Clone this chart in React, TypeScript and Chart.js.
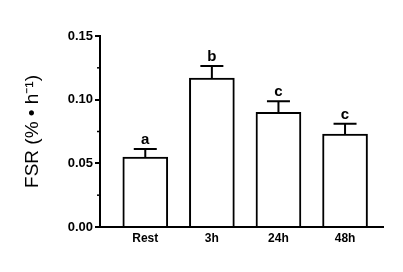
import React, { useEffect, useRef } from "react";
import { Chart, registerables } from "chart.js";

Chart.register(...registerables);

const categories = ["Rest", "3h", "24h", "48h"];
const fsrValues = [0.055, 0.117, 0.090, 0.073];
const fsrErrors = [0.0063, 0.0095, 0.0088, 0.008];
const sigLetters = ["a", "b", "c", "c"];
const yMajorTicks = [0, 0.05, 0.1, 0.15];
const yMinorTicks = [0.025, 0.075, 0.125];

const FONT = "'Liberation Sans', Arial, Helvetica, sans-serif";

const errorBarPlugin = {
  id: "errorBars",
  afterDatasetsDraw(chart: any) {
    const { ctx } = chart;
    const meta = chart.getDatasetMeta(0);
    const yScale = chart.scales.y;
    ctx.save();
    ctx.strokeStyle = "#000";
    ctx.fillStyle = "#000";
    ctx.lineWidth = 2;
    meta.data.forEach((bar: any, i: number) => {
      const top = yScale.getPixelForValue(fsrValues[i]);
      const errTop = yScale.getPixelForValue(fsrValues[i] + fsrErrors[i]);
      ctx.beginPath();
      ctx.moveTo(bar.x, top);
      ctx.lineTo(bar.x, errTop);
      ctx.moveTo(bar.x - 11.5, errTop);
      ctx.lineTo(bar.x + 11.5, errTop);
      ctx.stroke();
      ctx.font = `bold 15px ${FONT}`;
      ctx.textAlign = "center";
      ctx.textBaseline = "alphabetic";
      ctx.fillText(sigLetters[i], bar.x, errTop - 5);
    });
    // minor ticks on y axis
    const left = chart.chartArea.left;
    ctx.lineWidth = 1.5;
    yMinorTicks.forEach((v) => {
      const y = yScale.getPixelForValue(v);
      ctx.beginPath();
      ctx.moveTo(left - 3, y);
      ctx.lineTo(left, y);
      ctx.stroke();
    });
    ctx.restore();
  },
};

export default function App() {
  const canvasRef = useRef<HTMLCanvasElement | null>(null);

  useEffect(() => {
    if (!canvasRef.current) return;
    const chart = new Chart(canvasRef.current, {
      type: "bar",
      data: {
        datasets: [
          {
            data: fsrValues.map((v, i) => ({ x: i, y: v })),
            backgroundColor: "#ffffff",
            borderColor: "#000000",
            borderWidth: 2,
            barThickness: 45,
          },
        ],
      },
      options: {
        responsive: false,
        animation: false,
        events: [],
        layout: { padding: { left: 0, top: 36, right: 20, bottom: 0 } },
        plugins: {
          legend: { display: false },
          tooltip: { enabled: false },
        },
        scales: {
          x: {
            type: "linear",
            offset: false,
            min: -0.68,
            max: 3.57,
            afterBuildTicks: (scale: any) => {
              scale.ticks = categories.map((_, i) => ({ value: i }));
            },
            afterFit: (scale: any) => {
              scale.height = 45;
            },
            grid: { display: false, drawTicks: false, offset: false },
            border: { display: true, color: "#000", width: 2 },
            ticks: {
              padding: 4,
              color: "#000",
              font: { family: FONT, size: 12, weight: "bold" },
              callback: (v: any) => categories[Math.round(Number(v))] ?? "",
            },
          },
          y: {
            min: 0,
            max: 0.15,
            afterBuildTicks: (scale: any) => {
              scale.ticks = yMajorTicks.map((v) => ({ value: v }));
            },
            afterFit: (scale: any) => {
              scale.width = 100;
            },
            grid: {
              display: true,
              drawOnChartArea: false,
              drawTicks: true,
              tickLength: 5,
              color: "#000",
              lineWidth: 2,
            },
            border: { display: true, color: "#000", width: 2 },
            ticks: {
              padding: 2,
              color: "#000",
              font: { family: FONT, size: 13, weight: "bold" },
              callback: (v: any) => Number(v).toFixed(2),
            },
            title: {
              display: true,
              text: "FSR (% • h⁻¹)",
              color: "#000",
              font: { family: FONT, size: 19, weight: "normal" },
              padding: { top: 21, bottom: 0 },
            },
          },
        },
      },
      plugins: [errorBarPlugin],
    });
    return () => chart.destroy();
  }, []);

  return (
    <div style={{ position: "absolute", left: 0, top: 0, width: 403, height: 272, background: "#fff" }}>
      <canvas ref={canvasRef} width={403} height={272} style={{ display: "block" }} />
    </div>
  );
}
